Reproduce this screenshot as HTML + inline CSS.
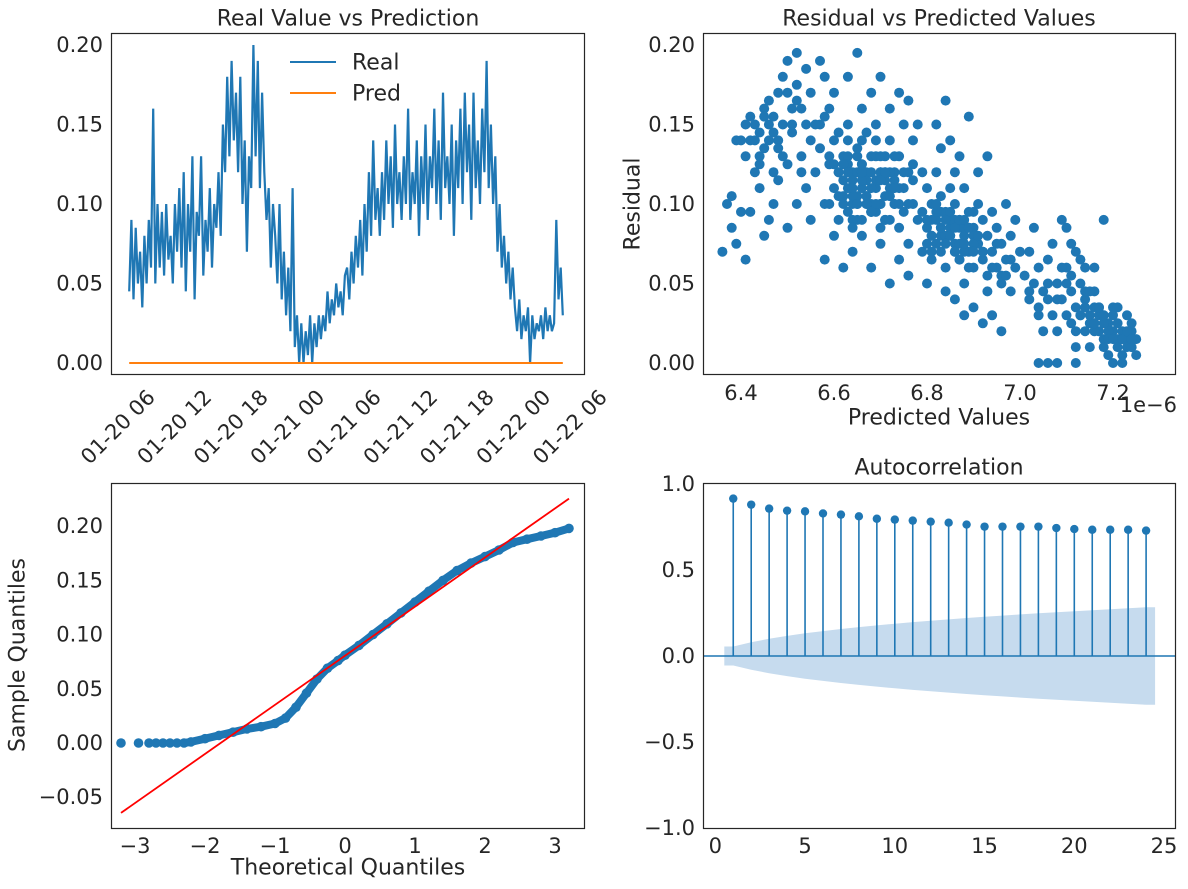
<!DOCTYPE html>
<html><head><meta charset="utf-8">
<style>
html,body{margin:0;padding:0;background:#fff;}
svg{display:block;font-family:"DejaVu Sans","Liberation Sans",sans-serif;}
text{fill:#262626;}
</style></head>
<body>
<svg id="fig" width="1188" height="889" viewBox="0 0 1188 889"></svg>
<script>
// ---------- DATA ----------
const seriesNames = ["Real", "Pred"];
const realValues = [
.045,.09,.04,.085,.05,.07,.035,.08,.05,.09,.06,.16,.05,.1,.06,.095,.055,.1,.065,.08,.05,.1,
.07,.11,.06,.12,.045,.1,.07,.13,.04,.095,.08,.13,.055,.09,.07,.11,.06,.1,
.085,.12,.08,.15,.12,.18,.13,.19,.14,.17,.12,.18,.10,.14,
.07,.13,.11,.20,.13,.19,.11,.17,
.12,.09,.11,.06,.10,.08,.05,.10,.04,.07,.03,.06,.02,
.11,.01,.03,0,.025,0,.02,.005,.03,0,.025,.01,.03,.015,
.03,.02,.045,.025,.04,.03,.05,.035,.045,.03,.055,
.06,.04,.07,.05,.08,.06,.09,.055,.1,.07,.12,.08,.14,.09,.11,.08,
.12,.09,.14,.1,.13,.085,.15,.1,.12,.09,.13,.1,.16,.09,.12,.1,.14,.08,.13,.1,.15,.09,.13,.11,.16,.1,.14,.09,.17,.11,.13,.1,.15,.08,.14,.11,.16,
.1,.17,.12,.15,.09,.17,.11,.14,.1,.16,.12,.19,.11,.15,
.10,.13,.07,.10,.06,.08,.05,.07,.04,.06,.035,
.02,.04,.015,.03,.02,.035,0,.03,.015,.025,.02,.03,.015,.035,.02,.03,.02,.025,
.09,.04,.06,.03];
const predValue = 0.0;
const timeStartHours = 7.4, timeEndHours = 53.45;
const timeTickHours = [6,12,18,24,30,36,42,48,54];
const timeTickLabels = ["01-20 06","01-20 12","01-20 18","01-21 00","01-21 06","01-21 12","01-21 18","01-22 00","01-22 06"];
const valueTicks = [0,0.05,0.10,0.15,0.20];
const valueTickLabels = ["0.00","0.05","0.10","0.15","0.20"];

const scatterX = [6.36,6.37,6.38,6.39,6.38,6.40,6.41,6.41,6.42,6.43,6.43,6.44,6.44,6.45,6.45,6.46,6.46,6.47,6.47,6.48,6.48,6.49,6.49,6.50,6.50,6.51,6.51,6.52,6.52,6.53,6.53,6.54,6.54,6.55,6.55,6.42,6.45,6.47,6.50,6.52,6.55,6.44,6.48,6.39,6.46,
6.57,6.58,6.56,6.57,6.58,6.59,6.59,6.60,6.60,6.61,6.61,6.62,6.62,6.63,6.63,6.64,6.64,6.65,6.65,6.66,6.66,6.67,6.67,6.68,6.68,6.69,6.69,6.70,6.70,6.71,6.71,6.72,6.72,6.73,6.73,6.74,6.74,6.75,6.75,6.76,6.77,6.77,6.78,6.79,6.80,6.63,6.65,6.68,6.70,6.66,6.72,6.74,6.76,6.78,6.60,6.62,6.64,6.66,6.68,6.70,6.72,6.74,6.76,6.60,6.58,6.69,6.67,6.71,6.73,6.65,6.63,6.61,6.75,6.77,6.79,
6.64,6.66,6.68,6.70,6.72,6.65,6.67,6.69,6.71,6.73,6.66,6.68,6.70,6.62,6.64,6.74,6.76,6.61,6.63,
6.80,6.81,6.81,6.82,6.82,6.83,6.83,6.84,6.84,6.85,6.85,6.86,6.86,6.87,6.87,6.88,6.88,6.89,6.89,6.90,6.90,6.91,6.91,6.92,6.92,6.93,6.93,6.94,6.94,6.95,6.95,6.96,6.96,6.97,6.98,6.98,6.99,7.00,6.83,6.85,6.87,6.89,6.91,6.93,6.86,6.88,6.90,6.92,6.94,6.96,6.84,6.97,6.99,6.82,6.84,6.86,6.88,6.80,
6.81,6.83,6.85,6.87,6.89,6.82,6.84,6.86,6.88,6.90,6.83,6.85,6.87,6.79,6.81,6.86,6.88,6.90,6.92,
7.01,7.02,7.02,7.03,7.04,7.04,7.05,7.05,7.06,7.06,7.07,7.08,7.08,7.09,7.10,7.10,7.11,7.11,7.12,7.12,7.13,7.13,7.14,7.14,7.15,7.15,7.16,7.16,7.17,7.17,7.18,7.18,7.19,7.19,7.20,7.20,7.21,7.21,7.22,7.22,7.23,7.23,7.24,7.24,7.25,7.25,7.10,7.09,7.12,7.14,7.18,7.06,7.08,7.12,7.20,7.03,7.07,7.04,7.16,7.13,7.11,
7.15,7.17,7.19,7.21,7.23,7.14,7.16,7.18,7.22,7.24,
6.41,6.43,6.45,6.47,6.49,6.51,6.53,6.40,6.42,6.44,6.46,6.48,6.50,6.52,6.54,6.56,6.58,6.57,6.59,6.61,
6.62,6.63,6.64,6.65,6.66,6.67,6.68,6.69,6.70,6.71,6.72,6.73,6.62,6.63,6.64,6.65,6.66,6.67,6.68,6.69,6.70,6.71,6.72,6.73,6.64,6.66,6.68,6.70,6.72,6.74,6.63,6.65,6.67,6.69,6.71,6.75,6.77,6.60,6.59,6.76,
6.80,6.81,6.82,6.83,6.84,6.85,6.86,6.87,6.88,6.89,6.90,6.91,6.80,6.81,6.82,6.83,6.84,6.85,6.86,6.87,6.88,6.89,6.90,6.92,6.94,6.96,6.98,6.93,6.95,6.97,
7.02,7.04,7.06,7.08,7.10,7.12,7.14,7.16,7.18,7.20,7.22,7.24,7.15,7.17,7.19,7.21,7.23,7.16,7.18,7.20,7.22,7.24,7.13,7.11,7.09];
const scatterY = [.07,.10,.085,.075,.105,.095,.065,.13,.14,.15,.12,.145,.11,.16,.135,.15,.09,.155,.12,.17,.14,.18,.15,.19,.125,.16,.145,.195,.175,.13,.16,.15,.11,.14,.17,.095,.08,.10,.085,.10,.09,.125,.115,.14,.165,
.19,.18,.12,.15,.10,.13,.16,.11,.14,.09,.12,.13,.10,.15,.11,.12,.09,.105,.13,.11,.14,.10,.12,.13,.095,.11,.15,.12,.10,.13,.09,.11,.14,.12,.10,.13,.085,.11,.15,.12,.10,.14,.09,.12,.11,.18,.195,.17,.18,.16,.16,.17,.165,.15,.17,.06,.07,.08,.06,.075,.05,.065,.055,.08,.065,.13,.115,.105,.115,.12,.13,.105,.095,.125,.07,
.105,.115,.10,.12,.105,.09,.10,.095,.115,.10,.125,.11,.13,.115,.10,.11,.10,.12,.125,
.085,.10,.07,.09,.12,.08,.105,.095,.06,.085,.11,.075,.10,.09,.065,.08,.11,.07,.095,.085,.06,.075,.10,.065,.09,.08,.055,.07,.095,.06,.085,.075,.05,.065,.08,.045,.06,.07,.135,.14,.13,.155,.12,.13,.04,.03,.035,.025,.03,.02,.045,.10,.09,.15,.165,.12,.05,.05,
.09,.085,.08,.075,.085,.075,.08,.09,.07,.08,.095,.09,.085,.095,.08,.07,.085,.075,.07,
.055,.04,.07,.05,.03,.06,.045,.02,.04,.065,.03,.05,.02,.04,.03,.06,.025,.045,.035,.01,.03,.05,.02,.04,.03,.01,.025,.045,.02,.035,.015,.03,.025,.005,.02,.035,.01,.025,.02,0,.015,.03,.01,.02,.005,.015,.085,.09,.07,.06,.09,.0,.0,.0,.0,.085,.075,.0,.06,.065,.075,
.025,.03,.02,.015,.01,.035,.02,.025,.015,.01,
.15,.14,.155,.145,.13,.15,.12,.14,.155,.13,.14,.135,.17,.165,.185,.15,.155,.135,.125,.145,
.105,.095,.115,.10,.12,.105,.095,.115,.10,.12,.105,.11,.125,.12,.11,.10,.125,.105,.12,.10,.115,.09,.12,.13,.085,.09,.095,.085,.09,.10,.14,.135,.145,.14,.12,.12,.115,.125,.10,.075,
.09,.08,.095,.085,.09,.08,.085,.09,.075,.085,.07,.08,.075,.065,.10,.07,.075,.095,.07,.065,.09,.06,.095,.07,.06,.055,.065,.045,.075,.055,
.045,.035,.05,.04,.05,.02,.045,.035,.03,.03,.015,.025,.045,.035,.015,.035,.02,.025,.01,.015,.005,.015,.03,.055,.06];
const scatterXTicks = [6.4,6.6,6.8,7.0,7.2];

const qqTheoretical = [-3.2,-2.95,-2.8,-2.7,-2.6,-2.5,-2.4,-2.3,-2.2,-2.0,-1.8,-1.6,-1.4,-1.2,-1.0,-0.85,-0.7,-0.55,-0.4,-0.25,-0.1,0,0.2,0.4,0.6,0.8,1.0,1.2,1.4,1.6,1.8,2.0,2.2,2.4,2.6,2.8,3.0,3.2];
const qqSample = [0,0,0,0,0,0,0,0,.001,.004,.007,.01,.013,.015,.018,.023,.033,.046,.059,.069,.076,.081,.09,.10,.11,.12,.13,.14,.15,.159,.166,.172,.178,.185,.188,.191,.194,.198];
const qqLineIntercept = 0.0805, qqLineSlope = 0.0453;
const qqXTicks = [-3,-2,-1,0,1,2,3];
const qqYTicks = [-0.05,0,0.05,0.10,0.15,0.20];
const qqYTickLabels = ["\u22120.05","0.00","0.05","0.10","0.15","0.20"];

const acfLags = [1,2,3,4,5,6,7,8,9,10,11,12,13,14,15,16,17,18,19,20,21,22,23,24];
const acfValues = [.915,.880,.857,.845,.841,.829,.822,.812,.798,.793,.787,.781,.775,.764,.752,.752,.752,.752,.744,.738,.734,.734,.734,.729];
const acfConf = [.055,.08,.10,.117,.132,.145,.157,.168,.178,.188,.197,.205,.213,.221,.228,.235,.242,.248,.254,.26,.266,.272,.278,.284];
const acfXTicks = [0,5,10,15,20,25];
const acfYTicks = [-1,-0.5,0,0.5,1];
const acfYTickLabels = ["\u22121.0","\u22120.5","0.0","0.5","1.0"];

// ---------- HELPERS ----------
const NS = "http://www.w3.org/2000/svg";
const svg = document.getElementById("fig");
const TICK = 21, LAB = 22;
function mk(tag, attrs, parent) {
  const e = document.createElementNS(NS, tag);
  for (const k in attrs) e.setAttribute(k, attrs[k]);
  (parent || svg).appendChild(e);
  return e;
}
function txt(x, y, s, size, anchor, parent, extra) {
  const t = mk("text", Object.assign({x: x, y: y, "font-size": size, "text-anchor": anchor || "middle", "dominant-baseline": "central"}, extra || {}), parent);
  t.textContent = s;
  return t;
}
const BLUE = "#1f77b4";

// ---------- PANEL 1 ----------
(function () {
  const g = mk("g", {});
  
  
  const X = h => 116 + (h - 6) * 9.417;
  const Y = v => 363 - v * 1590;
  const title = txt(348, 19, "Real Value vs Prediction", LAB, "middle", g);
  
  
  valueTicks.forEach((v, i) => {
    const t = txt(103, Y(v), valueTickLabels[i], TICK, "end", g);
    
    
  });
  timeTickHours.forEach((h, i) => {
    const x = X(h) + 2, y = 427;
    const t = txt(x, y, timeTickLabels[i], TICK, "middle", g, {transform: "rotate(-45 " + x + " " + y + ")"});
    
    
  });
  const n = realValues.length;
  const pts = realValues.map((v, i) => X(timeStartHours + i * (timeEndHours - timeStartHours) / (n - 1)).toFixed(1) + "," + Y(v).toFixed(1)).join(" ");
  const line = mk("polyline", {points: pts, fill: "none", stroke: BLUE, "stroke-width": 2.2, "stroke-linejoin": "miter"}, g);
  
  
  const pl = mk("line", {x1: X(timeStartHours), x2: X(timeEndHours), y1: Y(predValue), y2: Y(predValue), stroke: "#ff7f0e", "stroke-width": 2}, g);
  
  
  const frame = mk("rect", {x: 111.5, y: 33.5, width: 473, height: 341, fill: "none", stroke: "#262626", "stroke-width": 1.2}, g);
  
  
  const cols = [BLUE, "#ff7f0e"];
  seriesNames.forEach((s, i) => {
    const le = mk("g", {}, g);
    
    
    mk("line", {x1: 290, x2: 336, y1: 62 + i * 31, y2: 62 + i * 31, stroke: cols[i], "stroke-width": 2}, le);
    txt(352, 63 + i * 31, s, LAB, "start", le);
  });
})();

// ---------- PANEL 2 ----------
(function () {
  const g = mk("g", {});
  
  
  const X = v => 741 + (v - 6.4) * 465;
  const Y = v => 363 - v * 1590;
  const title = txt(939, 19, "Residual vs Predicted Values", LAB, "middle", g);
  
  
  valueTicks.forEach((v, i) => {
    const t = txt(695, Y(v), valueTickLabels[i], TICK, "end", g);
    
    
  });
  scatterXTicks.forEach(v => {
    const t = txt(X(v), 393, v.toFixed(1), TICK, "middle", g);
    
    
  });
  const off = txt(1177, 405, "1e\u22126", TICK, "end", g);
  
  
  const xl = txt(939, 418, "Predicted Values", LAB, "middle", g);
  
  
  const yl = txt(633, 204, "Residual", LAB, "middle", g, {transform: "rotate(-90 633 204)"});
  
  
  scatterX.forEach((x, i) => {
    const c = mk("circle", {cx: X(x).toFixed(1), cy: Y(scatterY[i]).toFixed(1), r: 5, fill: BLUE}, g);
    
    
  });
  const frame = mk("rect", {x: 703.5, y: 33.5, width: 472, height: 341, fill: "none", stroke: "#262626", "stroke-width": 1.2}, g);
  
  
})();

// ---------- PANEL 3 ----------
(function () {
  const g = mk("g", {});
  
  
  const X = v => 345 + v * 70;
  const Y = v => 743 - v * 1084;
  qqYTicks.forEach((v, i) => {
    const t = txt(103, Y(v), qqYTickLabels[i], TICK, "end", g);
    
    
  });
  qqXTicks.forEach(v => {
    const t = txt(X(v), 846, v < 0 ? "\u2212" + (-v) : String(v), TICK, "middle", g);
    
    
  });
  const xl = txt(348, 868, "Theoretical Quantiles", LAB, "middle", g);
  
  
  const yl = txt(18, 655, "Sample Quantiles", LAB, "middle", g, {transform: "rotate(-90 18 655)"});
  
  
  const body = qqTheoretical.map((t, i) => X(t).toFixed(1) + "," + Y(qqSample[i]).toFixed(1)).filter((p, i) => qqTheoretical[i] >= -2.3).join(" ");
  const pl = mk("polyline", {points: body, fill: "none", stroke: BLUE, "stroke-width": 8, "stroke-linecap": "round", "stroke-linejoin": "round"}, g);
  
  
  qqTheoretical.forEach((t, i) => {
    const c = mk("circle", {cx: X(t).toFixed(1), cy: Y(qqSample[i]).toFixed(1), r: 4.8, fill: BLUE}, g);
    
    
  });
  const x0 = -3.2, x1 = 3.2;
  const rl = mk("line", {x1: X(x0), y1: Y(qqLineIntercept + qqLineSlope * x0), x2: X(x1), y2: Y(qqLineIntercept + qqLineSlope * x1), stroke: "#ff0000", "stroke-width": 1.8}, g);
  
  
  const frame = mk("rect", {x: 111.5, y: 483.5, width: 473, height: 345, fill: "none", stroke: "#262626", "stroke-width": 1.2}, g);
  
  
})();

// ---------- PANEL 4 ----------
(function () {
  const g = mk("g", {});
  
  
  const X = v => 715.3 + v * 17.95;
  const Y = v => 656 - v * 172;
  const title = txt(939, 468, "Autocorrelation", LAB, "middle", g);
  
  
  acfYTicks.forEach((v, i) => {
    const t = txt(695, Y(v), acfYTickLabels[i], TICK, "end", g);
    
    
  });
  acfXTicks.forEach(v => {
    const t = txt(X(v), 846, String(v), TICK, "middle", g);
    
    
  });
  const lagsB = [acfLags[0] - 0.5].concat(acfLags, [acfLags[acfLags.length - 1] + 0.5]);
  const confB = [acfConf[0]].concat(acfConf, [acfConf[acfConf.length - 1]]);
  const up = lagsB.map((l, i) => X(l).toFixed(1) + "," + Y(confB[i]).toFixed(1));
  const dn = lagsB.map((l, i) => X(l).toFixed(1) + "," + Y(-confB[i]).toFixed(1)).reverse();
  const band = mk("polygon", {points: up.concat(dn).join(" "), fill: "#c6dbee", stroke: "none"}, g);
  
  
  const zl = mk("line", {x1: 703, x2: 1175, y1: Y(0), y2: Y(0), stroke: BLUE, "stroke-width": 1.6}, g);
  
  
  acfLags.forEach((l, i) => {
    const s = mk("line", {x1: X(l), x2: X(l), y1: Y(0), y2: Y(acfValues[i]), stroke: BLUE, "stroke-width": 1.6}, g);
    
    
    const c = mk("circle", {cx: X(l), cy: Y(acfValues[i]), r: 4.2, fill: BLUE}, g);
    
    
  });
  const frame = mk("rect", {x: 703.5, y: 483.5, width: 472, height: 345, fill: "none", stroke: "#262626", "stroke-width": 1.2}, g);
  
  
})();
</script>
</body></html>
